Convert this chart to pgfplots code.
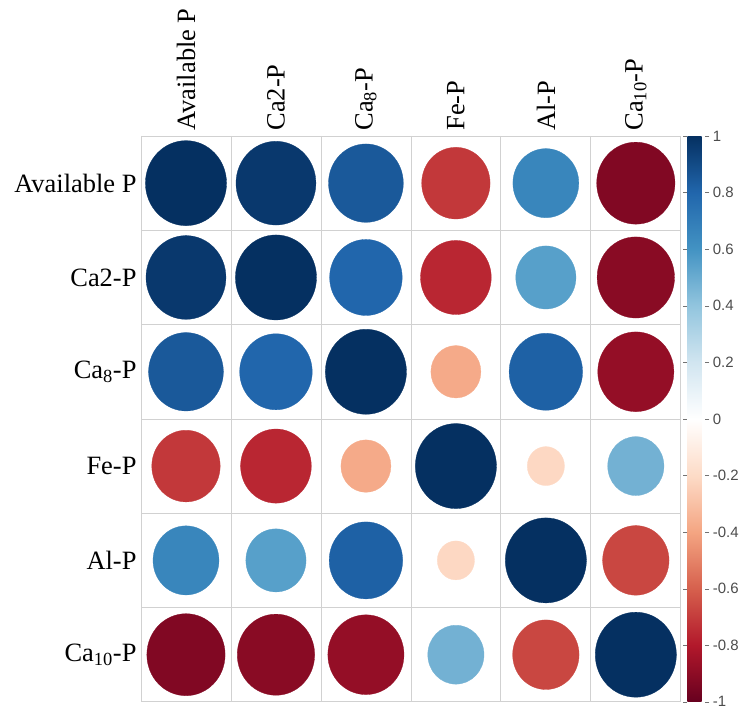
\documentclass[border=0pt]{standalone}
\usepackage{fontspec}
\setmainfont{Liberation Serif}
\newfontfamily\cbfont{Liberation Sans}
\usepackage{pgfplots}
\usepackage{pgfplotstable}
\pgfplotsset{compat=1.18}

% correlation matrix, long form: column index, row index, r
\pgfplotstableread{
c r val
1 1 1.00
2 1 0.97
3 1 0.85
4 1 -0.71
5 1 0.66
6 1 -0.93
1 2 0.97
2 2 1.00
3 2 0.80
4 2 -0.76
5 2 0.55
6 2 -0.91
1 3 0.85
2 3 0.80
3 3 1.00
4 3 -0.38
5 3 0.82
6 3 -0.88
1 4 -0.71
2 4 -0.76
3 4 -0.38
4 4 1.00
5 4 -0.21
6 4 0.48
1 5 0.66
2 5 0.55
3 5 0.82
4 5 -0.21
5 5 1.00
6 5 -0.67
1 6 -0.93
2 6 -0.91
3 6 -0.88
4 6 0.48
5 6 -0.67
6 6 1.00
}\corrdata

\pgfplotsset{
  colormap={RdBu}{
    rgb255=(103,0,31) rgb255=(178,24,43) rgb255=(214,96,77)
    rgb255=(244,165,130) rgb255=(253,219,199) rgb255=(255,255,255)
    rgb255=(209,229,240) rgb255=(146,197,222) rgb255=(67,147,195)
    rgb255=(33,102,172) rgb255=(5,48,97)
  }
}

\begin{document}
\begin{tikzpicture}
\begin{axis}[
  scale only axis,
  width=539bp, height=565bp,
  xmin=0.5, xmax=6.5, ymin=0.5, ymax=6.5,
  y dir=reverse,
  xtick={1,...,6}, ytick={1,...,6},
  xticklabels={Available P, Ca2-P, Ca\textsubscript{8}-P, Fe-P, Al-P, Ca\textsubscript{10}-P},
  yticklabels={Available P, Ca2-P, Ca\textsubscript{8}-P, Fe-P, Al-P, Ca\textsubscript{10}-P},
  xticklabel pos=top,
  xticklabel style={rotate=90, anchor=west, font=\fontsize{26.5}{26.5}\selectfont},
  yticklabel style={font=\fontsize{26.5}{26.5}\selectfont},
  xticklabel shift=2bp,
  yticklabel shift=1bp,
  major tick length=0pt,
  minor xtick={0.5,1.5,...,6.5}, minor ytick={0.5,1.5,...,6.5},
  minor tick length=0pt,
  xminorgrids, yminorgrids,
  minor grid style={black!18, line width=0.8pt},
  axis line style={black!18, line width=0.8pt},
  colormap name=RdBu,
  point meta min=-1, point meta max=1,
  colorbar right,
  colorbar style={
    width=18bp,
    at={(parent axis.north east)}, anchor=north west, xshift=-2bp,
    ytick={-1,-0.8,-0.6,-0.4,-0.2,0,0.2,0.4,0.6,0.8,1},
    yticklabel style={font=\cbfont\fontsize{15}{15}\selectfont, text=black!70,
      /pgf/number format/assume math mode=true},
    major tick length=4bp,
    tick align=outside,
    tick style={black!55},
    axis line style={draw=none},
  },
]
% circle area proportional to |r|, full-size circle spans 90% of a cell
\addplot[
  scatter, only marks, mark=*,
  scatter/use mapped color={draw=mapped color, fill=mapped color},
  point meta=\thisrow{val},
  visualization depends on={sqrt(abs(\thisrow{val}))*40.65 \as \rad},
  scatter/@pre marker code/.append style={/tikz/mark size=\rad},
  mark options={yscale=1.048, line width=0.3pt},
] table[x=c, y=r] {\corrdata};
\end{axis}
% white margin on the left and top
\path (current bounding box.north west) ++(-11bp,5bp);
\end{tikzpicture}
\end{document}
